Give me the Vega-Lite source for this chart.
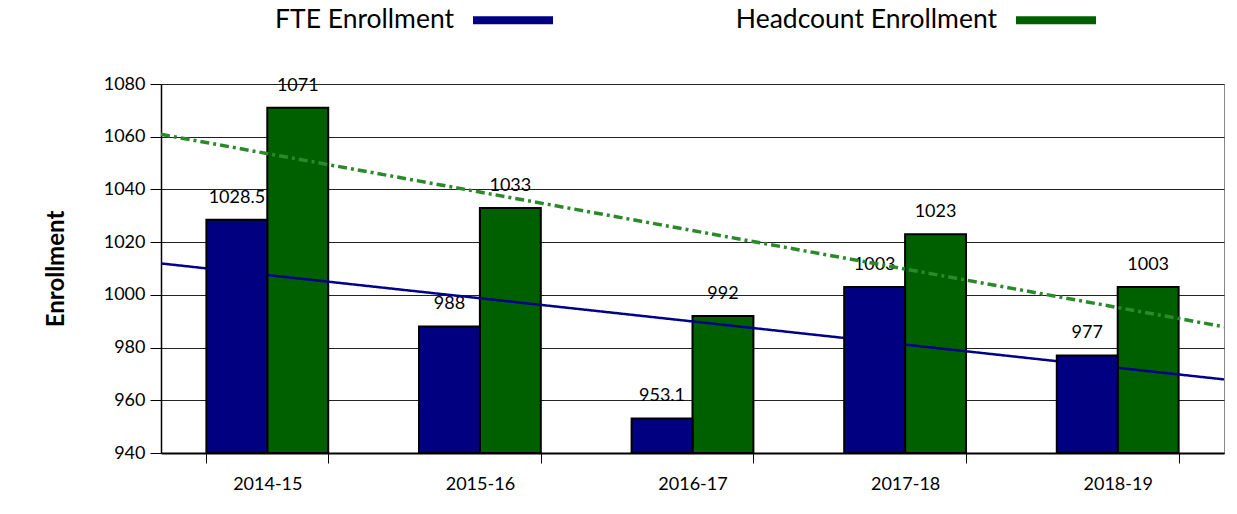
{
  "$schema": "https://vega.github.io/schema/vega-lite/v6.json",
  "width": 1063,
  "height": 369,
  "autosize": {"type": "none"},
  "padding": {"left": 161, "top": 84, "right": 13, "bottom": 61},
  "background": "white",
  "config": {
    "font": "Lato",
    "view": {"stroke": "#888888", "strokeWidth": 1},
    "axis": {"labelFont": "Lato", "labelFontSize": 18, "labelColor": "black", "domainColor": "black", "tickColor": "black", "gridColor": "#222222", "gridWidth": 1}
  },
  "data": {
    "values": [
      {"year": "2014-15", "series": "FTE Enrollment", "value": 1028.5},
      {"year": "2014-15", "series": "Headcount Enrollment", "value": 1071},
      {"year": "2015-16", "series": "FTE Enrollment", "value": 988},
      {"year": "2015-16", "series": "Headcount Enrollment", "value": 1033},
      {"year": "2016-17", "series": "FTE Enrollment", "value": 953.1},
      {"year": "2016-17", "series": "Headcount Enrollment", "value": 992},
      {"year": "2017-18", "series": "FTE Enrollment", "value": 1003},
      {"year": "2017-18", "series": "Headcount Enrollment", "value": 1023},
      {"year": "2018-19", "series": "FTE Enrollment", "value": 977},
      {"year": "2018-19", "series": "Headcount Enrollment", "value": 1003}
    ]
  },
  "transform": [
    {"window": [{"op": "row_number", "as": "idx"}], "groupby": ["series"], "sort": [{"field": "year", "order": "ascending"}]}
  ],
  "layer": [
    {
      "transform": [{"filter": "datum.series == 'Headcount Enrollment'"}],
      "mark": {"type": "bar", "stroke": "black", "strokeWidth": 2},
      "encoding": {
        "x": {"field": "year", "type": "nominal", "scale": {"domain": ["2014-15", "2015-16", "2016-17", "2017-18", "2018-19"], "paddingInner": 0.427, "paddingOuter": 0.2135},
          "axis": {"title": null, "labelAngle": 0, "tickBand": "extent", "tickSize": 10, "labelPadding": 12, "domainWidth": 2, "grid": false}},
        "xOffset": {"field": "series", "type": "nominal", "scale": {"domain": ["FTE Enrollment", "Headcount Enrollment"], "paddingInner": 0, "paddingOuter": 0}},
        "y": {"field": "value", "type": "quantitative", "scale": {"domain": [940, 1080], "zero": false, "nice": false},
          "axis": {"values": [940, 960, 980, 1000, 1020, 1040, 1060, 1080], "format": "d", "title": "Enrollment", "titleFont": "Lato", "titleFontSize": 24, "titleFontWeight": "bold", "titleColor": "black", "titlePadding": 35, "tickSize": 11, "labelPadding": 5, "grid": true, "domainWidth": 1.5}},
        "y2": {"datum": 940},
        "fill": {"field": "series", "type": "nominal", "scale": {"domain": ["FTE Enrollment", "Headcount Enrollment"], "range": ["#000080", "#006000"]},
          "legend": {"orient": "none", "legendX": 312, "legendY": -104, "direction": "horizontal", "title": null, "symbolType": "M-1,-0.1H1V0.1H-1Z", "symbolSize": 6400, "symbolStrokeWidth": 0, "labelAlign": "right", "labelOffset": -99, "labelFont": "Lato", "labelFontSize": 26.5, "labelColor": "black", "columnPadding": 182, "labelLimit": 400,
            "encode": {"symbols": {"update": {"strokeWidth": {"value": 0}, "strokeDash": {"value": [1, 0]}, "stroke": {"value": "transparent"}, "opacity": {"value": 1}}}}}}
      }
    },
    {
      "mark": {"type": "text", "fontSize": 18, "font": "Lato", "color": "black", "dy": -22, "baseline": "middle"},
      "encoding": {
        "x": {"field": "year", "type": "nominal", "scale": {"domain": ["2014-15", "2015-16", "2016-17", "2017-18", "2018-19"], "paddingInner": 0.427, "paddingOuter": 0.2135}, "axis": null},
        "xOffset": {"field": "series", "type": "nominal", "scale": {"domain": ["FTE Enrollment", "Headcount Enrollment"], "paddingInner": 0, "paddingOuter": 0}},
        "y": {"field": "value", "type": "quantitative", "scale": {"domain": [940, 1080], "zero": false, "nice": false}},
        "text": {"field": "value", "type": "nominal"}
      }
    },
    {
      "transform": [{"regression": "value", "on": "idx", "groupby": ["series"], "extent": [0.5, 5.5]}],
      "mark": {"type": "line"},
      "encoding": {
        "x": {"field": "idx", "type": "quantitative", "scale": {"domain": [0.5, 5.5], "nice": false, "zero": false}, "axis": null},
        "y": {"field": "value", "type": "quantitative", "scale": {"domain": [940, 1080], "zero": false, "nice": false}},
        "detail": {"field": "series", "type": "nominal"},
        "stroke": {"condition": {"test": "datum.series == 'FTE Enrollment'", "value": "#00008b"}, "value": "#2a8a2a"},
        "strokeWidth": {"condition": {"test": "datum.series == 'FTE Enrollment'", "value": 2.5}, "value": 3.5},
        "strokeDash": {"condition": {"test": "datum.series == 'FTE Enrollment'", "value": [1, 0]}, "value": [9, 4, 3, 4]}
      }
    },
    {
      "transform": [{"filter": "datum.series == 'FTE Enrollment'"}],
      "mark": {"type": "bar", "stroke": "black", "strokeWidth": 2},
      "encoding": {
        "x": {"field": "year", "type": "nominal", "scale": {"domain": ["2014-15", "2015-16", "2016-17", "2017-18", "2018-19"], "paddingInner": 0.427, "paddingOuter": 0.2135}, "axis": null},
        "xOffset": {"field": "series", "type": "nominal", "scale": {"domain": ["FTE Enrollment", "Headcount Enrollment"], "paddingInner": 0, "paddingOuter": 0}},
        "y": {"field": "value", "type": "quantitative", "scale": {"domain": [940, 1080], "zero": false, "nice": false}},
        "y2": {"datum": 940},
        "fill": {"field": "series", "type": "nominal"}
      }
    }
  ],
  "resolve": {"scale": {"x": "independent"}}
}
